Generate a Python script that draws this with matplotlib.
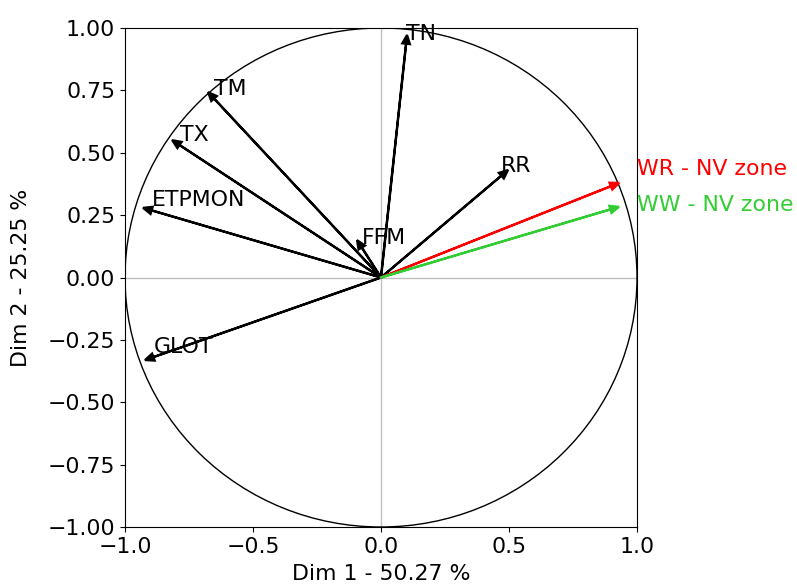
import numpy as np
import matplotlib
matplotlib.use("Agg")
import matplotlib.pyplot as plt
from matplotlib.patches import Circle

# variable coordinates (base of arrow head) on Dim 1 / Dim 2
var_names = ["TN", "TM", "TX", "ETPMON", "FFM", "RR", "GLOT"]
var_dim1 = [0.098, -0.652, -0.787, -0.896, -0.075, 0.470, -0.889]
var_dim2 = [0.937, 0.717, 0.531, 0.269, 0.120, 0.408, -0.319]

sup_names = ["WR - NV zone", "WW - NV zone"]
sup_dim1 = [0.898, 0.896]
sup_dim2 = [0.366, 0.273]
sup_colors = ["red", "limegreen"]

xlabel = "Dim 1 - 50.27 %"
ylabel = "Dim 2 - 25.25 %"

FS = 15.8

fig = plt.figure(figsize=(7.97, 5.86), dpi=100)
ax = fig.add_axes([125/797, 59/586, 512/797, 499/586])

ax.add_patch(Circle((0, 0), 1, fill=False, color="black", lw=1))
ax.axhline(0, color="silver", lw=1, zorder=0)
ax.axvline(0, color="silver", lw=1, zorder=0)

hw, hl = 0.03, 0.035
for n, x, y in zip(var_names, var_dim1, var_dim2):
    ax.arrow(0, 0, x, y, head_width=hw, head_length=hl, fc="black", ec="black",
             lw=1.6, length_includes_head=False)
    ax.text(x, y, n, fontsize=FS, ha="left", va="bottom", color="black")

sup_text_y = [0.395, 0.25]
for n, x, y, c, ty in zip(sup_names, sup_dim1, sup_dim2, sup_colors, sup_text_y):
    ax.arrow(0, 0, x, y, head_width=hw, head_length=hl, fc=c, ec=c,
             lw=1.6, length_includes_head=False)
    ax.text(1.0, ty, n, fontsize=FS, ha="left", va="bottom", color=c, clip_on=False)

ax.set_xlim(-1, 1)
ax.set_ylim(-1, 1)
ax.set_xticks([-1.0, -0.5, 0.0, 0.5, 1.0])
ax.set_yticks(np.arange(-1, 1.01, 0.25))
ax.set_xticklabels(["−1.0", "−0.5", "0.0", "0.5", "1.0"])
ax.set_yticklabels(["−1.00", "−0.75", "−0.50", "−0.25", "0.00", "0.25", "0.50", "0.75", "1.00"])
ax.tick_params(labelsize=FS)
ax.set_xlabel(xlabel, fontsize=FS, labelpad=5)
ax.set_ylabel(ylabel, fontsize=FS, labelpad=12)

fig.savefig("out.png", dpi=100)
